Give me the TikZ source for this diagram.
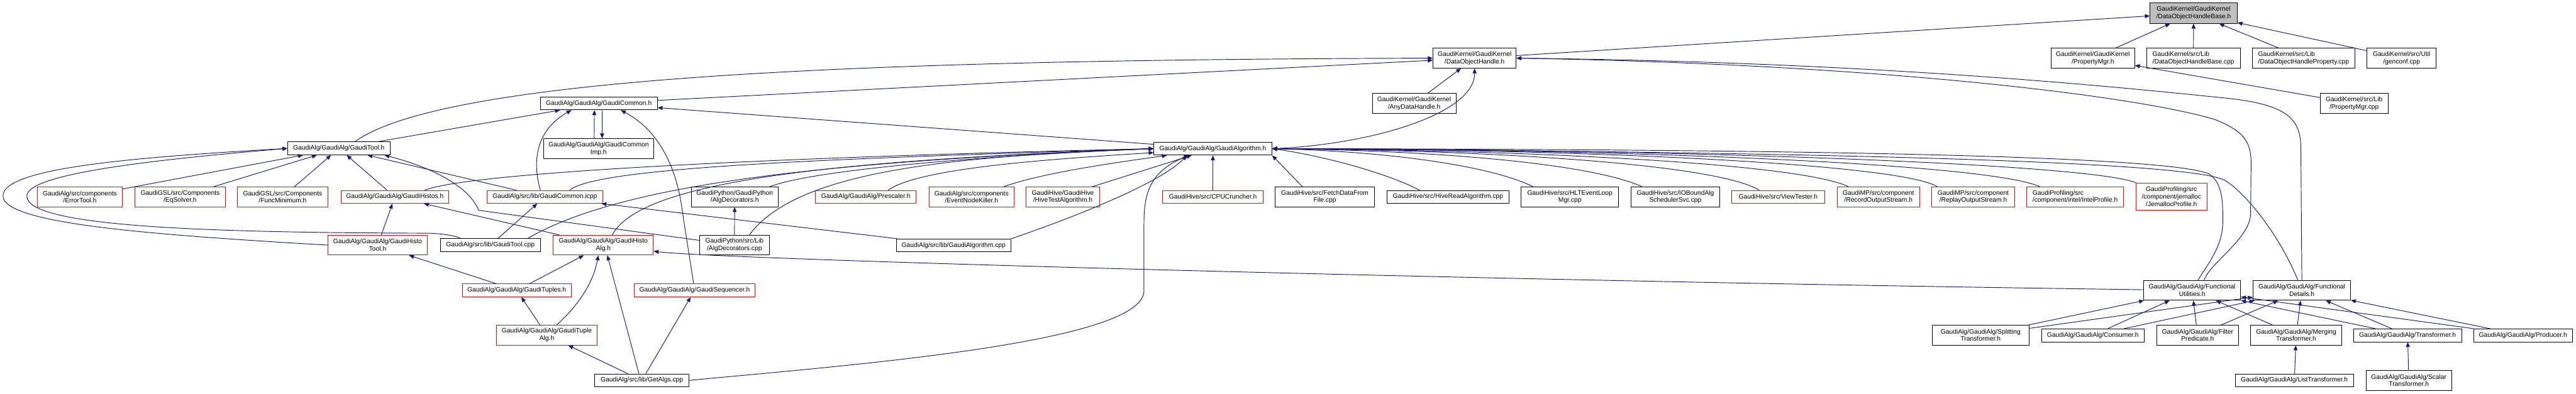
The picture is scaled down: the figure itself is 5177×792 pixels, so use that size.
\documentclass[tikz,border=0pt]{standalone}
\usepackage{fontspec}
\setmainfont{Liberation Sans}
\usetikzlibrary{arrows.meta}
\definecolor{edgec}{HTML}{191970}
\definecolor{rootfill}{HTML}{BFBFBF}
\begin{document}
\begin{tikzpicture}[x=1pt,y=-1pt,
  nbox/.style={draw=black, line width=1pt, fill=white, inner sep=0pt, align=center, font=\fontsize{13}{15}\selectfont},
  rbox/.style={nbox, draw=red},
  incl/.style={draw=edgec, line width=1.2pt, {Triangle[length=10pt,width=8pt]}-}
]
\useasboundingbox (0,0) rectangle (5177,792);
\fill[white] (0,0) rectangle (5177,792);
% ---------- nodes ----------
\node[nbox, fill=rootfill, minimum width=175pt, minimum height=41pt] (root) at (4408.5,26.5) {GaudiKernel/GaudiKernel\\/DataObjectHandleBase.h};
\node[nbox, minimum width=167pt, minimum height=40pt] (doh) at (2963.5,117) {GaudiKernel/GaudiKernel\\/DataObjectHandle.h};
\node[nbox, minimum width=168pt, minimum height=40pt] (pmgrh) at (4206,117) {GaudiKernel/GaudiKernel\\/PropertyMgr.h};
\node[nbox, align=left, minimum width=188pt, minimum height=40pt] (dohbcpp) at (4408,117) {GaudiKernel/src/Lib\\/DataObjectHandleBase.cpp};
\node[nbox, align=left, minimum width=207pt, minimum height=40pt] (dohpcpp) at (4629.5,117) {GaudiKernel/src/Lib\\/DataObjectHandleProperty.cpp};
\node[nbox, minimum width=139pt, minimum height=40pt] (genconf) at (4826.5,117) {GaudiKernel/src/Util\\/genconf.cpp};
\node[nbox, minimum width=136pt, minimum height=40pt] (pmgrcpp) at (4731,208) {GaudiKernel/src/Lib\\/PropertyMgr.cpp};
\node[nbox, minimum width=168pt, minimum height=40pt] (anydh) at (2842,208) {GaudiKernel/GaudiKernel\\/AnyDataHandle.h};
\node[nbox, minimum width=235pt, minimum height=26pt] (gcommon) at (1203.5,208) {GaudiAlg/GaudiAlg/GaudiCommon.h};
\node[nbox, minimum width=222pt, minimum height=40pt] (gcimp) at (1203,299) {GaudiAlg/GaudiAlg/GaudiCommon\\Imp.h};
\node[nbox, minimum width=237pt, minimum height=26pt] (galgh) at (2437.5,299) {GaudiAlg/GaudiAlg/GaudiAlgorithm.h};
\node[nbox, minimum width=206pt, minimum height=26pt] (gtoolh) at (681,298.5) {GaudiAlg/GaudiAlg/GaudiTool.h};
\node[rbox, minimum width=171pt, minimum height=40pt] (errortool) at (160.5,396) {GaudiAlg/src/components\\/ErrorTool.h};
\node[rbox, minimum width=182pt, minimum height=40pt] (eqsolver) at (362,396) {GaudiGSL/src/Components\\/EqSolver.h};
\node[rbox, minimum width=182pt, minimum height=40pt] (funcmin) at (568,396) {GaudiGSL/src/Components\\/FuncMinimum.h};
\node[rbox, minimum width=217pt, minimum height=26pt] (ghistos) at (793.5,396) {GaudiAlg/GaudiAlg/GaudiHistos.h};
\node[rbox, minimum width=232pt, minimum height=26pt] (gcicpp) at (1095,396) {GaudiAlg/src/lib/GaudiCommon.icpp};
\node[nbox, minimum width=175pt, minimum height=40pt] (algdech) at (1476.5,396) {GaudiPython/GaudiPython\\/AlgDecorators.h};
\node[rbox, minimum width=202pt, minimum height=26pt] (prescaler) at (1740,396) {GaudiAlg/GaudiAlg/Prescaler.h};
\node[rbox, minimum width=171pt, minimum height=40pt] (enk) at (1952.5,396) {GaudiAlg/src/components\\/EventNodeKiller.h};
\node[rbox, minimum width=148pt, minimum height=40pt] (hivetest) at (2136,396) {GaudiHive/GaudiHive\\/HiveTestAlgorithm.h};
\node[rbox, minimum width=203pt, minimum height=26pt] (cpucr) at (2437.5,396) {GaudiHive/src/CPUCruncher.h};
\node[nbox, minimum width=199pt, minimum height=40pt] (fetch) at (2662.5,396) {GaudiHive/src/FetchDataFrom\\File.cpp};
\node[nbox, minimum width=246pt, minimum height=26pt] (hiveread) at (2910,396) {GaudiHive/src/HiveReadAlgorithm.cpp};
\node[nbox, minimum width=196pt, minimum height=40pt] (hlt) at (3155,396) {GaudiHive/src/HLTEventLoop\\Mgr.cpp};
\node[nbox, minimum width=178pt, minimum height=40pt] (iobound) at (3367,396) {GaudiHive/src/IOBoundAlg\\SchedulerSvc.cpp};
\node[rbox, minimum width=187pt, minimum height=26pt] (viewtester) at (3573.5,396) {GaudiHive/src/ViewTester.h};
\node[rbox, minimum width=166pt, minimum height=40pt] (record) at (3775,396) {GaudiMP/src/component\\/RecordOutputStream.h};
\node[rbox, minimum width=167pt, minimum height=40pt] (replay) at (3965.5,396) {GaudiMP/src/component\\/ReplayOutputStream.h};
\node[rbox, align=left, minimum width=195pt, minimum height=40pt] (intel) at (4170.5,396) {GaudiProfiling/src\\/component/intel/IntelProfile.h};
\node[rbox, minimum width=142pt, minimum height=55pt] (jemalloc) at (4364,395.5) {GaudiProfiling/src\\/component/jemalloc\\/JemallocProfile.h};
\node[rbox, minimum width=200pt, minimum height=40pt] (ghtool) at (759,493) {GaudiAlg/GaudiAlg/GaudiHisto\\Tool.h};
\node[nbox, minimum width=201pt, minimum height=26pt] (gtoolcpp) at (985.5,493) {GaudiAlg/src/lib/GaudiTool.cpp};
\node[rbox, minimum width=201pt, minimum height=40pt] (ghalg) at (1212.5,493) {GaudiAlg/GaudiAlg/GaudiHisto\\Alg.h};
\node[nbox, minimum width=140pt, minimum height=40pt] (algdeccpp) at (1476,493) {GaudiPython/src/Lib\\/AlgDecorators.cpp};
\node[nbox, minimum width=231pt, minimum height=26pt] (galgcpp) at (1916.5,493.5) {GaudiAlg/src/lib/GaudiAlgorithm.cpp};
\node[rbox, minimum width=219pt, minimum height=26pt] (gtuples) at (1038.5,584) {GaudiAlg/GaudiAlg/GaudiTuples.h};
\node[rbox, minimum width=242pt, minimum height=26pt] (gseq) at (1396,584) {GaudiAlg/GaudiAlg/GaudiSequencer.h};
\node[rbox, minimum width=202pt, minimum height=40pt] (gtuplealg) at (1099,674) {GaudiAlg/GaudiAlg/GaudiTuple\\Alg.h};
\node[nbox, minimum width=190pt, minimum height=26pt] (getalgs) at (1290,765) {GaudiAlg/src/lib/GetAlgs.cpp};
\node[nbox, minimum width=195pt, minimum height=40pt] (futil) at (4405.5,584) {GaudiAlg/GaudiAlg/Functional\\Utilities.h};
\node[nbox, minimum width=196pt, minimum height=40pt] (fdet) at (4626,584) {GaudiAlg/GaudiAlg/Functional\\Details.h};
\node[nbox, minimum width=195pt, minimum height=40pt] (splitting) at (3980.5,674) {GaudiAlg/GaudiAlg/Splitting\\Transformer.h};
\node[nbox, minimum width=206pt, minimum height=26pt] (consumer) at (4206,674.5) {GaudiAlg/GaudiAlg/Consumer.h};
\node[nbox, minimum width=165pt, minimum height=40pt] (filter) at (4416.5,674) {GaudiAlg/GaudiAlg/Filter\\Predicate.h};
\node[nbox, minimum width=183pt, minimum height=40pt] (merging) at (4614.5,674) {GaudiAlg/GaudiAlg/Merging\\Transformer.h};
\node[nbox, minimum width=217pt, minimum height=26pt] (transformer) at (4838.5,674.5) {GaudiAlg/GaudiAlg/Transformer.h};
\node[nbox, minimum width=199pt, minimum height=26pt] (producer) at (5070.5,674.5) {GaudiAlg/GaudiAlg/Producer.h};
\node[nbox, minimum width=238pt, minimum height=26pt] (listtr) at (4611,765) {GaudiAlg/GaudiAlg/ListTransformer.h};
\node[nbox, minimum width=172pt, minimum height=40pt] (scalar) at (4841,765) {GaudiAlg/GaudiAlg/Scalar\\Transformer.h};
% ---------- edges ----------
% top
\draw[incl] (root) -- (doh);
\draw[incl] (root) -- (pmgrh);
\draw[incl] (root) -- (dohbcpp);
\draw[incl] (root) -- (dohpcpp);
\draw[incl] (root) -- (genconf);
\draw[incl] (pmgrh) -- (pmgrcpp);
\draw[incl] (doh) -- (anydh);
\draw[incl] (doh.south) .. controls (2964,230) and (2750,292) .. (galgh.east);
\draw[incl] (doh.west) .. controls (1800,120) and (900,150) .. ([xshift=32pt]gtoolh.north);
\draw[incl] (doh) -- (gcommon);
\draw[incl] (doh.east) .. controls (3800,125) and (4300,180) .. (4470,197) .. controls (4600,210) and (4624,240) .. (4624,300) -- (fdet.north);
\draw[incl] (doh.east) .. controls (3800,130) and (4300,195) .. (4450,240) .. controls (4515,265) and (4524,290) .. (4524,330) -- (4523,430) .. controls (4522,480) and (4440,530) .. ([xshift=24pt]futil.north);
% GaudiCommon
\draw[incl] (gcommon) -- (gtoolh);
\draw[incl] ([xshift=-9pt]gcommon.south) -- ([xshift=-9pt]gcimp.north);
\draw[incl] ([xshift=7pt]gcimp.north) -- ([xshift=7pt]gcommon.south);
\draw[incl] ([xshift=-55pt]gcommon.south) .. controls (1080,260) and (1068,320) .. ([xshift=-9pt]gcicpp.north);
\draw[incl] (gcommon) -- (galgh);
\draw[incl] ([xshift=44pt]gcommon.south) .. controls (1320,260) and (1360,330) .. (1372,430) -- ([xshift=-2pt]gseq.north);
% GaudiTool
\draw[incl] (gtoolh) -- (errortool);
\draw[incl] (gtoolh) -- (eqsolver);
\draw[incl] (gtoolh) -- (funcmin);
\draw[incl] (gtoolh) -- (ghistos);
\draw[incl] (gtoolh) -- (gcicpp);
\draw[incl] (gtoolh.west) .. controls (300,315) and (2,335) .. (6,395) .. controls (10,450) and (300,472) .. (ghtool.west);
\draw[incl] (gtoolh.west) .. controls (300,322) and (52,350) .. (54,395) .. controls (56,455) and (400,468) .. (860,469) .. controls (890,470) and (915,474) .. ([xshift=-60pt]gtoolcpp.north);
\draw[incl] ([xshift=-12pt]gtoolh.south east) .. controls (880,340) and (945,380) .. (962,423) -- (algdeccpp);
% GaudiAlgorithm.h left side
\draw[incl] (galgh.west) .. controls (1600,315) and (950,345) .. ([xshift=60pt]ghistos.north);
\draw[incl] (galgh.west) .. controls (1700,318) and (1200,335) .. ([xshift=50pt]gcicpp.north);
\draw[incl] (galgh.west) .. controls (1700,322) and (1290,360) .. ([xshift=18pt]ghalg.north);
\draw[incl] (galgh.west) .. controls (1650,325) and (1250,370) .. ([xshift=75pt]gtoolcpp.north);
\draw[incl] (galgh.west) .. controls (2000,312) and (1640,340) .. ([xshift=70pt]algdech.north);
\draw[incl] (galgh.west) .. controls (1900,315) and (1600,345) .. ([xshift=30pt]algdeccpp.north);
\draw[incl] (galgh) .. controls (2150,318) and (1850,335) .. ([xshift=45pt]prescaler.north);
\draw[incl] (galgh) .. controls (2280,322) and (2100,345) .. ([xshift=65pt]enk.north);
\draw[incl] (galgh) -- ([xshift=59pt]hivetest.north);
\draw[incl] (galgh) -- (cpucr);
\draw[incl] ([xshift=-52pt]galgh.south) .. controls (2330,370) and (2150,440) .. (galgcpp.north east);
\draw[incl] ([xshift=-48pt]galgh.south) .. controls (2310,345) and (2299,390) .. (2299,450) -- (2299,585) .. controls (2299,690) and (1700,735) .. (getalgs.east);
% GaudiAlgorithm.h right side
\draw[incl] (galgh.south east) -- ([xshift=-45pt]fetch.north);
\draw[incl] (galgh.east) .. controls (2650,312) and (2780,345) .. ([xshift=-57pt]hiveread.north);
\draw[incl] (galgh.east) .. controls (2800,305) and (3000,335) .. ([xshift=-74pt]hlt.north);
\draw[incl] (galgh.east) .. controls (2900,303) and (3200,330) .. ([xshift=-67pt]iobound.north);
\draw[incl] (galgh.east) .. controls (3000,302) and (3450,330) .. ([xshift=-38pt]viewtester.north);
\draw[incl] (galgh.east) .. controls (3100,302) and (3620,330) .. ([xshift=-60pt]record.north);
\draw[incl] (galgh.east) .. controls (3200,300) and (3820,330) .. ([xshift=-72pt]replay.north);
\draw[incl] (galgh.east) .. controls (3300,300) and (4000,330) .. ([xshift=-71pt]intel.north);
\draw[incl] (galgh.east) .. controls (3400,300) and (4200,330) .. (jemalloc.north west);
\draw[incl] (galgh.east) .. controls (3500,300) and (4350,310) .. (4440,350) .. controls (4465,368) and (4468,400) .. (4467,450) .. controls (4466,500) and (4430,540) .. ([xshift=12pt]futil.north);
\draw[incl] (galgh.east) .. controls (3500,305) and (4380,320) .. (4470,362) .. controls (4510,385) and (4580,470) .. ([xshift=-8pt]fdet.north);
\draw[incl] (ghalg) .. controls (1450,522) and (3000,565) .. (futil);
% lower left
\draw[incl] (ghistos) -- (ghtool);
\draw[incl] (ghistos) -- (ghalg);
\draw[incl] (gcicpp) -- (gtoolcpp);
\draw[incl] (gcicpp) -- (galgcpp);
\draw[incl] (algdech) -- (algdeccpp);
\draw[incl] (ghtool) -- (gtuples);
\draw[incl] (ghalg) -- (gtuples);
\draw[incl] ([xshift=-10pt]ghalg.south) .. controls (1190,580) and (1150,625) .. ([xshift=20pt]gtuplealg.north);
\draw[incl] ([xshift=8pt]ghalg.south) -- ([xshift=-6pt]getalgs.north);
\draw[incl] (gtuples) -- (gtuplealg);
\draw[incl] (gtuplealg) -- (getalgs);
\draw[incl] (gseq) -- (getalgs);
% functional
\draw[incl] (futil) -- (splitting);
\draw[incl] (fdet) -- (splitting);
\draw[incl] (futil) -- (consumer);
\draw[incl] (fdet) -- (consumer);
\draw[incl] (futil) -- (filter);
\draw[incl] (fdet) -- (filter);
\draw[incl] (futil) -- (merging);
\draw[incl] (fdet) -- (merging);
\draw[incl] (futil) -- (transformer);
\draw[incl] (fdet) -- (transformer);
\draw[incl] (futil) -- (producer);
\draw[incl] (fdet) -- (producer);
\draw[incl] (merging) -- (listtr);
\draw[incl] (transformer) -- (scalar);
\end{tikzpicture}
\end{document}
